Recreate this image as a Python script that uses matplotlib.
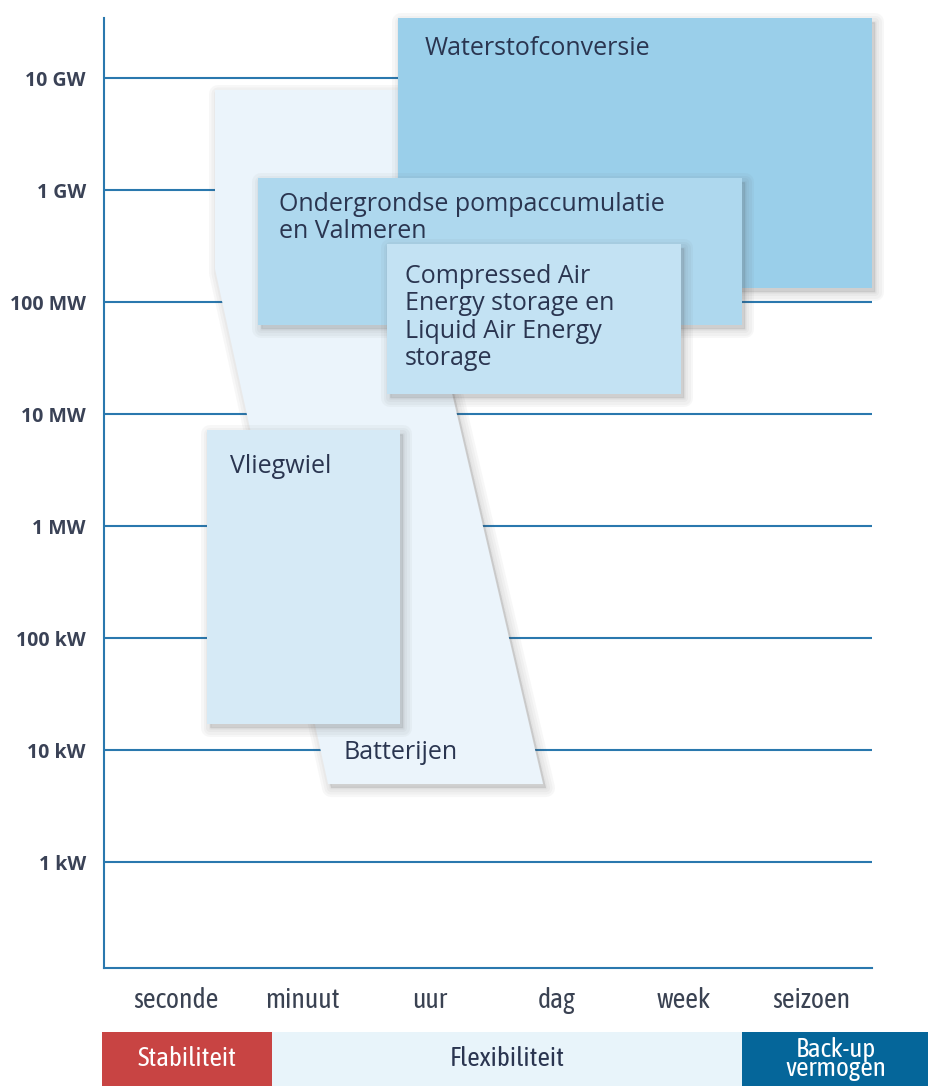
import matplotlib
matplotlib.use('Agg')
import matplotlib.pyplot as plt
from matplotlib.patches import Polygon, Rectangle
from matplotlib import transforms, font_manager

# ---------------- data ----------------
time_labels = ['seconde', 'minuut', 'uur', 'dag', 'week', 'seizoen']
power_ticks = [1e3, 1e4, 1e5, 1e6, 1e7, 1e8, 1e9, 1e10]
power_labels = ['1 kW', '10 kW', '100 kW', '1 MW', '10 MW', '100 MW', '1 GW', '10 GW']

# technology ranges: x in time-category units (0 = seconde ... 5 = seizoen), power in W
waterstof_x = (1.75, 5.48)
waterstof_p = (1.33e8, 3.44e10)
ondergronds_x = (0.646, 4.457)
ondergronds_p = (6.24e7, 1.28e9)
caes_x = (1.661, 3.976)
caes_p = (1.51e7, 3.30e8)
vliegwiel_x = (0.244, 1.764)
vliegwiel_p = (1.71e4, 7.19e6)
batterij_x = [0.307, 1.945, 1.945, 2.890, 1.197, 0.307]
batterij_p = [7.82e9, 7.82e9, 1.97e8, 4.97e3, 4.97e3, 1.97e8]

band_labels = ['Stabiliteit', 'Flexibiliteit', 'Back-up\nvermogen']

# ---------------- fonts ----------------
names = {f.name for f in font_manager.fontManager.ttflist}
COND = 'Open Sans'
for cand in ['Open Sans Condensed Light', 'Asap Condensed', 'Barlow Semi Condensed', 'Archivo Narrow']:
    if cand in names:
        COND = cand
        break

BLUE = '#2A78AE'
TXT = '#2A3550'

fig = plt.figure(figsize=(9.29, 10.86), dpi=100)
ax = fig.add_axes([104/929, (1086-968)/1086, 768/929, 950/1086])
ax.set_yscale('log')
ax.set_xlim(-0.567, 5.48)
ax.set_ylim(10**2.054, 10**10.536)

for p in power_ticks:
    ax.axhline(p, color=BLUE, lw=1.5, zorder=1)

for s in ['top', 'right']:
    ax.spines[s].set_visible(False)
for s in ['left', 'bottom']:
    ax.spines[s].set_color(BLUE)
    ax.spines[s].set_linewidth(1.5)

ax.set_yticks(power_ticks)
ax.set_yticklabels(power_labels, fontfamily='Open Sans', fontweight='bold',
                   fontsize=14, color='#3A4256')
ax.yaxis.set_minor_locator(matplotlib.ticker.NullLocator())
ax.set_xticks(range(len(time_labels)))
ax.set_xticklabels(time_labels, fontfamily=[COND, 'Open Sans'], fontweight='normal',
                   fontsize=20, color='#3A4252')
ax.tick_params(axis='y', length=0, pad=13)
ax.tick_params(axis='x', length=0, pad=14)

px = 0.72  # points per pixel


def shadow(verts, z):
    off = transforms.ScaledTranslation(3/100, -4/100, fig.dpi_scale_trans)
    for w in [18, 13, 8, 3]:
        sh = Polygon(verts, closed=True, facecolor='#555555', edgecolor='#555555',
                     lw=w*px, alpha=0.045, joinstyle='round',
                     transform=ax.transData + off, zorder=z - 0.5, clip_on=False)
        ax.add_patch(sh)


def box(xr, pr, color, z):
    verts = [(xr[0], pr[0]), (xr[1], pr[0]), (xr[1], pr[1]), (xr[0], pr[1])]
    shadow(verts, z)
    ax.add_patch(Polygon(verts, closed=True, facecolor=color, edgecolor='none',
                         zorder=z, clip_on=False))


def label(xy, text, dx, dy, z, ls=1.1):
    ax.annotate(text, xy=xy, xytext=(dx, -dy), textcoords='offset pixels',
                ha='left', va='top', fontsize=18, fontfamily='Open Sans',
                color=TXT, linespacing=ls, zorder=z + 0.2, annotation_clip=False)


# Batterijen
bverts = list(zip(batterij_x, batterij_p))
shadow(bverts, 2)
ax.add_patch(Polygon(bverts, closed=True, facecolor='#EBF4FB', edgecolor='none',
                     zorder=2, clip_on=False))
ax.text(1.315, 10**3.982, 'Batterijen', ha='left', va='center', fontsize=18,
        fontfamily='Open Sans', color=TXT, zorder=2.2)

box(waterstof_x, waterstof_p, '#9ACFEA', 3)
label((waterstof_x[0], waterstof_p[1]), 'Waterstofconversie', 26, 18, 3)

box(ondergronds_x, ondergronds_p, '#AED8EE', 4)
label((ondergronds_x[0], ondergronds_p[1]), 'Ondergrondse pompaccumulatie\nen Valmeren', 21, 14, 4, 1.08)

box(caes_x, caes_p, '#C3E2F3', 5)
label((caes_x[0], caes_p[1]),
      'Compressed Air\nEnergy storage en\nLiquid Air Energy\nstorage', 18, 20, 5, 1.13)

box(vliegwiel_x, vliegwiel_p, '#D6EAF6', 6)
label((vliegwiel_x[0], vliegwiel_p[1]), 'Vliegwiel', 23, 24, 6)

# ---------------- bottom band ----------------
bx = fig.add_axes([0, 0, 1, 54/1086])
bx.set_xlim(0, 929)
bx.set_ylim(0, 54)
bx.axis('off')
bands = [(102, 272, '#C84443', 'white'), (272, 742, '#E8F4FA', TXT), (742, 929, '#05669A', 'white')]
for (x0, x1, fc, tc), t in zip(bands, band_labels):
    bx.add_patch(Rectangle((x0, 0), x1 - x0, 54, facecolor=fc, edgecolor='none'))
    bx.text((x0 + x1) / 2, 27, t, ha='center', va='center', color=tc, fontsize=19.5,
            fontfamily=[COND, 'Open Sans'], fontweight='normal', linespacing=0.72)

fig.savefig('out.png', dpi=100)
